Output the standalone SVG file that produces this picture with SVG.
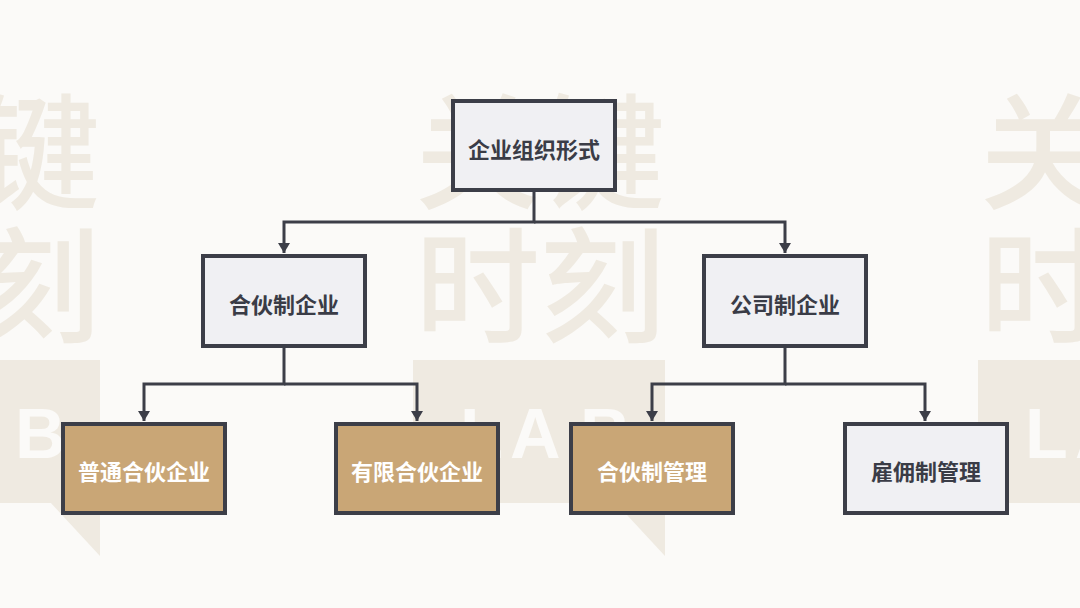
<svg xmlns="http://www.w3.org/2000/svg" xmlns:xlink="http://www.w3.org/1999/xlink" width="1080" height="608" viewBox="0 0 1080 608">
  <style>
    .wm { font-family: "Noto Sans CJK SC", "Noto Sans", sans-serif; font-size: 125px; font-weight: 500; fill: #EFEAE1; }
    .lab { font-family: "Liberation Sans", Arial, sans-serif; font-size: 70px; font-weight: bold; fill: #FBFAF8; }
    .box { stroke: #3C3E48; stroke-width: 4; }
    .gray { fill: #F0F0F3; }
    .tan { fill: #C9A676; }
    .t { font-family: "Noto Sans CJK SC", "Noto Sans", sans-serif; font-size: 22px; font-weight: bold; text-anchor: middle; }
    .dark { fill: #3A3C46; }
    .light { fill: #FFFFFF; }
    .conn { fill: none; stroke: #3C3E48; stroke-width: 3; }
  </style>
  <defs>
    <marker id="arr" markerWidth="12" markerHeight="12" refX="10" refY="6" orient="auto" markerUnits="userSpaceOnUse">
      <path d="M0,0 L10,6 L0,12 z" fill="#3C3E48"/>
    </marker>
    <g id="logo">
      <text class="wm" x="0" y="199">关键</text>
      <text class="wm" x="0" y="333">时刻</text>
      <rect x="-2" y="360" width="252" height="143" fill="#EFEAE1"/>
      <polygon points="200,502 250,502 250,556" fill="#EFEAE1"/>
      <text class="lab" x="45" y="458">L</text>
      <text class="lab" x="95" y="458">A</text>
      <text class="lab" x="165" y="458">B</text>
    </g>
  </defs>
  <rect width="1080" height="608" fill="#FBFAF8"/>
  <g id="watermark">
    <use xlink:href="#logo" x="-150"/>
    <use xlink:href="#logo" x="415"/>
    <use xlink:href="#logo" x="980"/>
  </g>
  <g id="connectors">
    <path class="conn" d="M534,190 V222 H284 V253" marker-end="url(#arr)"/>
    <path class="conn" d="M534,222 H785 V253" marker-end="url(#arr)"/>
    <path class="conn" d="M284,346 V384 H144 V421" marker-end="url(#arr)"/>
    <path class="conn" d="M284,384 H417 V421" marker-end="url(#arr)"/>
    <path class="conn" d="M785,346 V384 H652 V421" marker-end="url(#arr)"/>
    <path class="conn" d="M785,384 H925 V421" marker-end="url(#arr)"/>
  </g>
  <g id="root">
    <rect class="box gray" x="453" y="101" width="162" height="89"/>
    <text class="t dark" x="534" y="158">企业组织形式</text>
  </g>
  <g id="partnership">
    <rect class="box gray" x="203" y="256" width="162" height="90"/>
    <text class="t dark" x="284" y="313">合伙制企业</text>
  </g>
  <g id="company">
    <rect class="box gray" x="704" y="256" width="162" height="90"/>
    <text class="t dark" x="785" y="313">公司制企业</text>
  </g>
  <g id="general">
    <rect class="box tan" x="63" y="424" width="162" height="89"/>
    <text class="t light" x="144" y="480">普通合伙企业</text>
  </g>
  <g id="limited">
    <rect class="box tan" x="336" y="424" width="162" height="89"/>
    <text class="t light" x="417" y="480">有限合伙企业</text>
  </g>
  <g id="partnermgmt">
    <rect class="box tan" x="571" y="424" width="162" height="89"/>
    <text class="t light" x="652" y="480">合伙制管理</text>
  </g>
  <g id="employmgmt">
    <rect class="box gray" x="845" y="424" width="162" height="89"/>
    <text class="t dark" x="926" y="480">雇佣制管理</text>
  </g>
</svg>
